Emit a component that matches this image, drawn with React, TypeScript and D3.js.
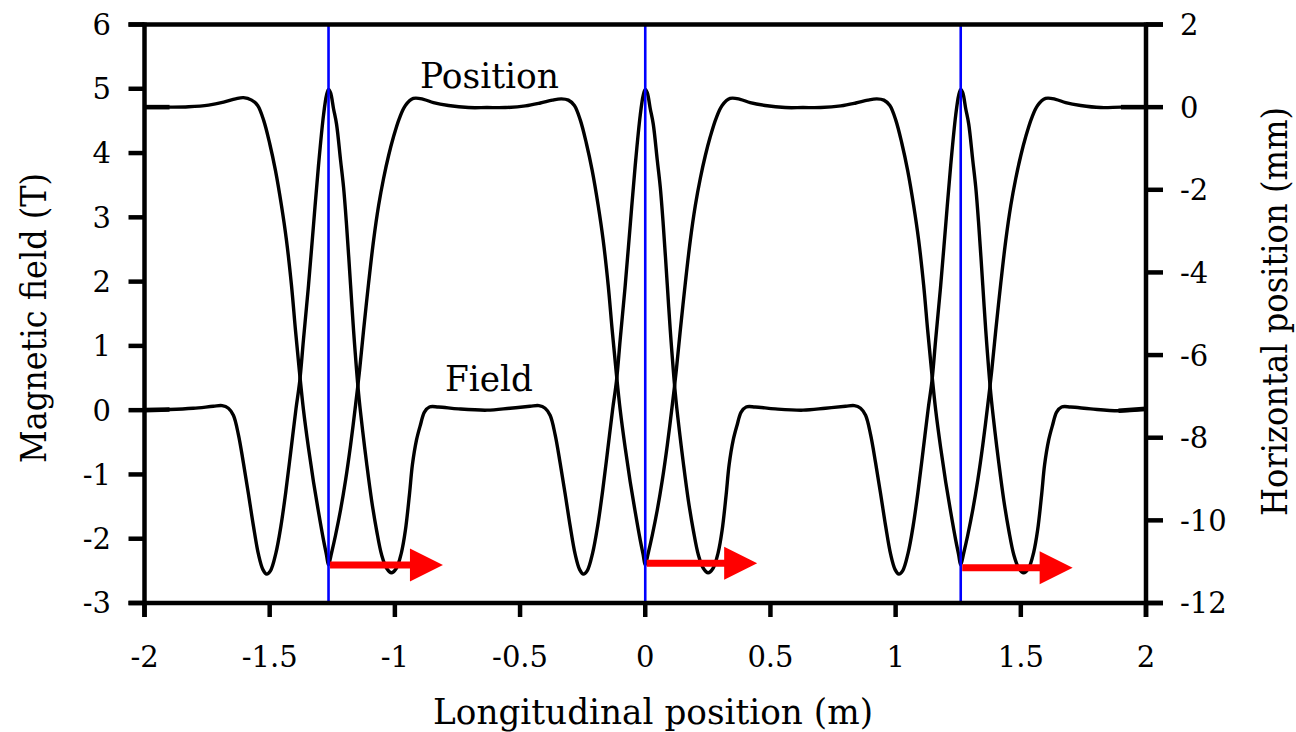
import React from "react";
import * as d3 from "d3";

// Longitudinal coordinate (m) and magnetic field (T) of the three-magnet section
const fieldX = [
  -2.0, -1.9, -1.805, -1.725, -1.69, -1.665, -1.645, -1.625, -1.605, -1.585, -1.565, -1.545, -1.527, -1.512, -1.497,
  -1.475, -1.455, -1.435, -1.415, -1.395, -1.38, -1.365, -1.345, -1.325, -1.305, -1.285, -1.273, -1.265,
  -1.257, -1.245, -1.233, -1.217, -1.205, -1.193, -1.177, -1.165, -1.145, -1.129, -1.113, -1.093, -1.073, -1.053,
  -1.033, -1.014, -0.994, -0.974, -0.958, -0.942, -0.93, -0.914, -0.898, -0.882, -0.862, -0.826, -0.746, -0.632,
  -0.54, -0.46, -0.425, -0.4, -0.38, -0.36, -0.34, -0.32, -0.3, -0.28, -0.262, -0.247, -0.232, -0.21, -0.19, -0.17,
  -0.15, -0.13, -0.115, -0.1, -0.08, -0.06, -0.04, -0.02, -0.008, 0.0,
  0.008, 0.02, 0.032, 0.048, 0.06, 0.072, 0.088, 0.1, 0.12, 0.136, 0.152, 0.172, 0.192, 0.212, 0.232, 0.251, 0.271,
  0.291, 0.307, 0.323, 0.335, 0.351, 0.367, 0.383, 0.403, 0.439, 0.519, 0.63,
  0.72, 0.8, 0.835, 0.86, 0.88, 0.9, 0.92, 0.94, 0.96, 0.98, 0.998, 1.013, 1.028, 1.05, 1.07, 1.09, 1.11, 1.13,
  1.145, 1.16, 1.18, 1.2, 1.22, 1.24, 1.252, 1.26,
  1.268, 1.28, 1.292, 1.308, 1.32, 1.332, 1.348, 1.36, 1.38, 1.396, 1.412, 1.432, 1.452, 1.472, 1.492, 1.511, 1.531,
  1.551, 1.567, 1.583, 1.595, 1.611, 1.627, 1.643, 1.663, 1.699, 1.779, 1.89, 2.0,
];
const fieldT = [
  0.0, 0.01, 0.03, 0.06, 0.07, 0.03, -0.08, -0.38, -0.82, -1.3, -1.8, -2.24, -2.48, -2.55, -2.5,
  -2.22, -1.8, -1.25, -0.62, 0.02, 0.45, 1.1, 1.94, 2.88, 3.81, 4.59, 4.9, 4.99,
  4.94, 4.69, 4.45, 3.89, 3.47, 2.88, 1.95, 1.24, 0.26, -0.31, -0.82, -1.4, -1.87, -2.25,
  -2.46, -2.53, -2.46, -2.22, -1.87, -1.32, -0.85, -0.47, -0.23, -0.03, 0.05, 0.05, 0.02, 0.0,
  0.03, 0.06, 0.07, 0.03, -0.08, -0.38, -0.82, -1.3, -1.8, -2.24, -2.48, -2.55, -2.5, -2.22, -1.8, -1.25,
  -0.62, 0.02, 0.45, 1.1, 1.94, 2.88, 3.81, 4.59, 4.9, 4.99,
  4.94, 4.69, 4.45, 3.89, 3.47, 2.88, 1.95, 1.24, 0.26, -0.31, -0.82, -1.4, -1.87, -2.25, -2.46, -2.53, -2.46,
  -2.22, -1.87, -1.32, -0.85, -0.47, -0.23, -0.03, 0.05, 0.05, 0.02, 0.0,
  0.03, 0.06, 0.07, 0.03, -0.08, -0.38, -0.82, -1.3, -1.8, -2.24, -2.48, -2.55, -2.5, -2.22, -1.8, -1.25, -0.62, 0.02,
  0.45, 1.1, 1.94, 2.88, 3.81, 4.59, 4.9, 4.99,
  4.94, 4.69, 4.45, 3.89, 3.47, 2.88, 1.95, 1.24, 0.26, -0.31, -0.82, -1.4, -1.87, -2.25, -2.46, -2.53, -2.46,
  -2.22, -1.87, -1.32, -0.85, -0.47, -0.23, -0.03, 0.05, 0.05, 0.02, -0.01, 0.02,
];

// Longitudinal coordinate (m) and horizontal orbit position (mm)
const orbitX = [
  -2.0, -1.9, -1.824, -1.744, -1.684, -1.636, -1.605, -1.572, -1.548, -1.524, -1.5, -1.477, -1.453, -1.433, -1.413,
  -1.397, -1.381, -1.365, -1.345, -1.325, -1.305, -1.285, -1.273, -1.265,
  -1.253, -1.237, -1.217, -1.197, -1.177, -1.157, -1.141, -1.125, -1.105, -1.085, -1.065, -1.045, -1.025, -1.006,
  -0.982, -0.958, -0.926, -0.886, -0.846, -0.786, -0.706, -0.632,
  -0.559, -0.479, -0.419, -0.371, -0.335, -0.307, -0.283, -0.259, -0.235, -0.212, -0.188, -0.168, -0.148, -0.132,
  -0.116, -0.1, -0.08, -0.06, -0.04, -0.02, -0.008, 0.0,
  0.012, 0.028, 0.048, 0.068, 0.088, 0.108, 0.124, 0.14, 0.16, 0.18, 0.2, 0.22, 0.24, 0.259, 0.283, 0.307, 0.339,
  0.379, 0.419, 0.479, 0.559, 0.63,
  0.701, 0.781, 0.841, 0.889, 0.925, 0.953, 0.977, 1.001, 1.025, 1.048, 1.072, 1.092, 1.112, 1.128, 1.144, 1.16,
  1.18, 1.2, 1.22, 1.24, 1.252, 1.26,
  1.272, 1.288, 1.308, 1.328, 1.348, 1.368, 1.384, 1.4, 1.42, 1.44, 1.46, 1.48, 1.5, 1.519, 1.543, 1.567, 1.599,
  1.639, 1.679, 1.739, 1.819, 1.9, 2.0,
];
const orbitMM = [
  0.0, 0.0, 0.01, 0.05, 0.12, 0.2, 0.23, 0.17, 0.04, -0.32, -0.88, -1.53, -2.38, -3.22, -4.31,
  -5.4, -6.41, -7.33, -8.25, -9.07, -9.8, -10.48, -10.84, -11.08,
  -10.79, -10.36, -9.75, -9.03, -8.18, -7.21, -6.37, -5.4, -4.26, -3.22, -2.38, -1.72, -1.17, -0.73,
  -0.27, 0.04, 0.21, 0.19, 0.11, 0.04, -0.01, -0.01,
  -0.01, 0.03, 0.1, 0.17, 0.2, 0.17, 0.04, -0.32, -0.88, -1.53, -2.38, -3.22, -4.31, -5.4,
  -6.41, -7.33, -8.25, -9.07, -9.8, -10.48, -10.84, -11.08,
  -10.79, -10.36, -9.75, -9.03, -8.18, -7.21, -6.37, -5.4, -4.26, -3.22, -2.38, -1.72, -1.17, -0.73, -0.27, 0.04, 0.21,
  0.19, 0.11, 0.04, -0.01, -0.01,
  -0.01, 0.03, 0.1, 0.17, 0.2, 0.17, 0.04, -0.32, -0.88, -1.53, -2.38, -3.22, -4.31, -5.4, -6.41, -7.33,
  -8.25, -9.07, -9.8, -10.48, -10.84, -11.08,
  -10.79, -10.36, -9.75, -9.03, -8.18, -7.21, -6.37, -5.4, -4.26, -3.22, -2.38, -1.72, -1.17, -0.73, -0.27, 0.04, 0.21,
  0.19, 0.11, 0.04, -0.01, 0.0, 0.0,
];

// Magnet centres (m) marked by vertical lines, and the direction arrows
const magnetCenters = [-1.265, 0, 1.26];
const arrowEndX = [-0.808, 0.447, 1.707];
const arrowLevelT = [-2.41, -2.38, -2.45];

// Axis ticks
const xTicks = [-2, -1.5, -1, -0.5, 0, 0.5, 1, 1.5, 2];
const xTickLabels = ["-2", "-1.5", "-1", "-0.5", "0", "0.5", "1", "1.5", "2"];
const leftTicks = [-3, -2, -1, 0, 1, 2, 3, 4, 5, 6];
const rightTicks = [-12, -10, -8, -6, -4, -2, 0, 2];

const W = 1296;
const H = 732;
const PL = 144.5;
const PR = 1146;
const PT = 24.5;
const PB = 603;
const FONT = "DejaVu Serif";

export default function App() {
  const x = d3.scaleLinear().domain([-2, 2]).range([PL, PR]);
  const yL = d3.scaleLinear().domain([-3, 6]).range([PB, PT]);
  const yR = d3.scaleLinear().domain([-12, 2]).range([PB, PT]);

  const fieldLine = d3
    .line<number>()
    .x((_, i) => x(fieldX[i]))
    .y((d) => yL(d))
    .curve(d3.curveCatmullRom.alpha(0.5));
  const orbitLine = d3
    .line<number>()
    .x((_, i) => x(orbitX[i]))
    .y((d) => yR(d))
    .curve(d3.curveCatmullRom.alpha(0.5));

  // heavier end segments where the traces start and stop at the frame
  const fieldEnds = [
    [0, 1],
    [fieldX.length - 2, fieldX.length - 1],
  ];
  const orbitEnds = [
    [0, 1],
    [orbitX.length - 2, orbitX.length - 1],
  ];

  const tickLen = 16;
  const axisW = 4.5;

  return (
    <svg width={W} height={H} style={{ position: "absolute", left: 0, top: 0, background: "#fff" }}>
      <rect x={0} y={0} width={W} height={H} fill="#fff" />

      {/* curves */}
      <path d={orbitLine(orbitMM) || ""} fill="none" stroke="#000" strokeWidth={3.4} strokeLinejoin="round" />
      <path d={fieldLine(fieldT) || ""} fill="none" stroke="#000" strokeWidth={3.4} strokeLinejoin="round" />
      {orbitEnds.map(([a, b], i) => (
        <line key={`oe${i}`} x1={x(orbitX[a])} x2={x(orbitX[b])} y1={yR(orbitMM[a])} y2={yR(orbitMM[b])} stroke="#000" strokeWidth={4.6} />
      ))}
      {fieldEnds.map(([a, b], i) => (
        <line key={`fe${i}`} x1={x(fieldX[a])} x2={x(fieldX[b])} y1={yL(fieldT[a])} y2={yL(fieldT[b])} stroke="#000" strokeWidth={4.6} />
      ))}

      {/* magnet centre lines */}
      {magnetCenters.map((c, i) => (
        <line key={`m${i}`} x1={x(c)} x2={x(c)} y1={PT} y2={PB} stroke="#0000ff" strokeWidth={2.6} />
      ))}

      {/* arrows */}
      {magnetCenters.map((c, i) => {
        const x0 = x(c) + 1.5;
        const x1 = x(arrowEndX[i]);
        const yy = yL(arrowLevelT[i]);
        const head = 33;
        const half = 16.5;
        const shaft = 3.5;
        const pts = [
          [x0, yy - shaft],
          [x1 - head, yy - shaft],
          [x1 - head, yy - half],
          [x1, yy],
          [x1 - head, yy + half],
          [x1 - head, yy + shaft],
          [x0, yy + shaft],
        ];
        return <polygon key={`a${i}`} points={pts.map((p) => p.join(",")).join(" ")} fill="#ff0000" />;
      })}

      {/* frame and axes */}
      <line x1={PL - tickLen} x2={PR + 17} y1={PT} y2={PT} stroke="#000" strokeWidth={axisW} />
      <line x1={PL - tickLen} x2={PR + 17} y1={PB} y2={PB} stroke="#000" strokeWidth={axisW} />
      <line x1={PL} x2={PL} y1={PT - 2} y2={PB + 14} stroke="#000" strokeWidth={axisW} />
      <line x1={PR} x2={PR} y1={PT - 2} y2={PB + 14} stroke="#000" strokeWidth={axisW} />

      {/* left axis */}
      {leftTicks.map((t) => (
        <g key={`l${t}`}>
          <line x1={PL - tickLen} x2={PL} y1={yL(t)} y2={yL(t)} stroke="#000" strokeWidth={axisW} />
          <text x={111} y={yL(t)} dy="0.36em" textAnchor="end" fontSize={29} fontFamily={FONT} fill="#000">
            {String(t)}
          </text>
        </g>
      ))}

      {/* right axis */}
      {rightTicks.map((t) => (
        <g key={`r${t}`}>
          <line x1={PR} x2={PR + 17} y1={yR(t)} y2={yR(t)} stroke="#000" strokeWidth={axisW} />
          <text x={1180} y={yR(t)} dy="0.36em" textAnchor="start" fontSize={29} fontFamily={FONT} fill="#000">
            {String(t)}
          </text>
        </g>
      ))}

      {/* bottom axis */}
      {xTicks.map((t, i) => (
        <g key={`b${t}`}>
          <line x1={x(t)} x2={x(t)} y1={PB} y2={PB + 14} stroke="#000" strokeWidth={axisW} />
          <text x={x(t)} y={667} textAnchor="middle" fontSize={29} fontFamily={FONT} fill="#000">
            {xTickLabels[i]}
          </text>
        </g>
      ))}

      {/* axis titles */}
      <text x={433} y={724} fontSize={36} textLength={440} lengthAdjust="spacingAndGlyphs" fontFamily={FONT} fill="#000">
        Longitudinal position (m)
      </text>
      <text
        transform={`translate(46,318) rotate(-90)`}
        x={-145}
        fontSize={36}
        textLength={290}
        lengthAdjust="spacingAndGlyphs"
        fontFamily={FONT}
        fill="#000"
      >
        Magnetic field (T)
      </text>
      <text
        transform={`translate(1287,312) rotate(-90)`}
        x={-204}
        fontSize={36}
        textLength={409}
        lengthAdjust="spacingAndGlyphs"
        fontFamily={FONT}
        fill="#000"
      >
        Horizontal position (mm)
      </text>

      {/* curve labels */}
      <text x={420} y={88} fontSize={36} textLength={139} lengthAdjust="spacingAndGlyphs" fontFamily={FONT} fill="#000">
        Position
      </text>
      <text x={445} y={391} fontSize={36} textLength={88} lengthAdjust="spacingAndGlyphs" fontFamily={FONT} fill="#000">
        Field
      </text>
    </svg>
  );
}
